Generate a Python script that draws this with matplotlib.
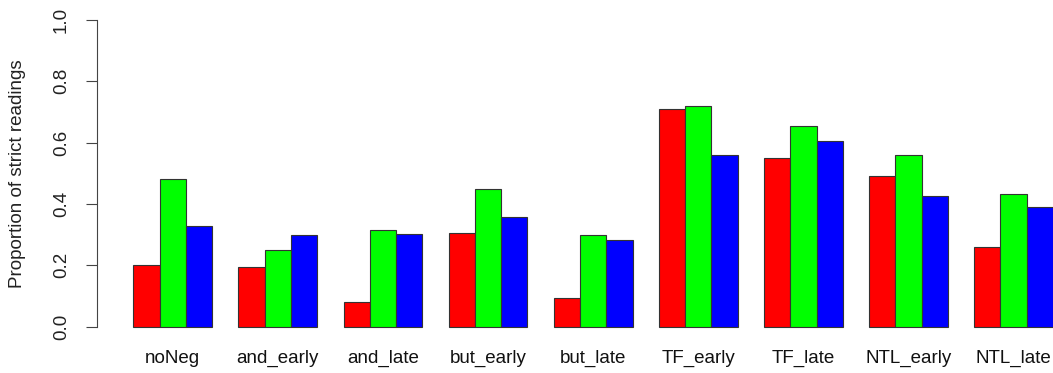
import numpy as np
import matplotlib.pyplot as plt

plt.rcParams['font.family'] = ['Liberation Sans', 'DejaVu Sans']

# Data
categories = ['noNeg', 'and_early', 'and_late', 'but_early', 'but_late',
              'TF_early', 'TF_late', 'NTL_early', 'NTL_late']
red_vals = [0.201, 0.196, 0.082, 0.305, 0.095, 0.711, 0.550, 0.491, 0.261]
green_vals = [0.481, 0.250, 0.315, 0.448, 0.299, 0.719, 0.655, 0.559, 0.432]
blue_vals = [0.328, 0.300, 0.301, 0.357, 0.284, 0.560, 0.606, 0.425, 0.389]

W, H = 1053, 373
fig = plt.figure(figsize=(W / 100, H / 100), dpi=100)

# axes region in pixels (R-style barplot, cropped on the right)
left, right = 96.5, 1053
y0, y1 = 326.7, 20.0
unit = (y0 - y1)
bottom = y0 + 0.04 * unit
top = y1 - 0.04 * unit
ax = fig.add_axes([left / W, 1 - bottom / H, (right - left) / W, (bottom - top) / H])

# R barplot with beside=TRUE, space=c(0,1)
groups = np.arange(len(categories))
starts = 1 + 4 * groups
series = [(red_vals, '#FF0000'), (green_vals, '#00FF00'), (blue_vals, '#0000FF')]
for k, (vals, col) in enumerate(series):
    ax.bar(starts + k, vals, width=1, align='edge', color=col,
           edgecolor='#333333', linewidth=0.8)

ax.set_xlim(-0.4, 36.0)
ax.set_ylim(-0.04, 1.04)

for s in ['top', 'right', 'bottom']:
    ax.spines[s].set_visible(False)
ax.spines['left'].set_bounds(0, 1)
ax.spines['left'].set_color('#444444')

fs = 13.5
ax.set_yticks([0.0, 0.2, 0.4, 0.6, 0.8, 1.0])
ax.set_yticklabels(['0.0', '0.2', '0.4', '0.6', '0.8', '1.0'], rotation=90,
                   va='center', fontsize=fs, color='#222222')
ax.tick_params(axis='y', length=8, width=0.8, color='#444444', pad=11)

ax.set_xticks(starts + 1.5)
ax.set_xticklabels(categories, fontsize=fs, color='#111111')
ax.tick_params(axis='x', length=0, pad=8)

ax.set_ylabel('Proportion of strict readings', fontsize=fs, color='#222222', va='center')
ax.yaxis.set_label_coords((18 - left) / (right - left), 0.5)

fig.savefig('out.png', dpi=100)
